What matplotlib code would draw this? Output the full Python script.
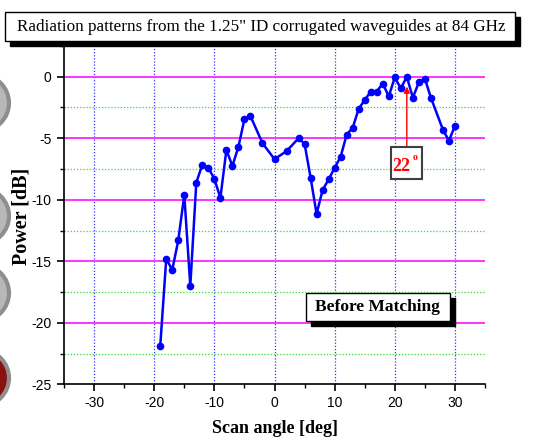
import matplotlib
matplotlib.use("Agg")
import matplotlib.pyplot as plt
from matplotlib.patches import Rectangle, Circle
from matplotlib.ticker import MultipleLocator

plt.rcParams["axes.unicode_minus"] = False

# Scan angle (deg) and measured power (dB)
angles = [-19, -18, -17, -16, -15, -14, -13, -12, -11, -10, -9, -8, -7, -6, -5, -4,
          -2, 0, 2, 4, 5, 6, 7, 8, 9, 10, 11, 12, 13, 14, 15, 16, 17, 18, 19,
          20, 21, 22, 23, 24, 25, 26, 28, 29, 30]
power_db = [-21.9, -14.8, -15.7, -13.3, -9.6, -17.0, -8.6, -7.15, -7.4, -8.3, -9.85,
            -5.95, -7.25, -5.7, -3.45, -3.2,
            -5.4, -6.7, -6.05, -5.0, -5.45, -8.2, -11.15, -9.2, -8.35, -7.4, -6.5,
            -4.7, -4.15, -2.6, -1.9, -1.2, -1.2, -0.55, -1.6,
            -0.05, -0.95, 0.0, -1.7, -0.45, -0.15, -1.7, -4.3, -5.2, -4.0]

title_text = 'Radiation patterns from the 1.25" ID corrugated waveguides at 84 GHz'
x_label = "Scan angle [deg]"
y_label = "Power [dB]"
note_text = "Before Matching"
peak_angle = 22

SERIF = ["Liberation Serif", "DejaVu Serif"]
SANS = ["Liberation Sans", "DejaVu Sans"]

W, H = 547, 445
fig = plt.figure(figsize=(W / 100, H / 100), dpi=100)


def px(x, y):
    """Pixel position (from top-left) to figure fraction."""
    return x / W, 1 - y / H


# decorative discs at the left edge
for cy, face in [(103, "#b8b8b8"), (216, "#b8b8b8"), (293, "#b8b8b8"), (378, "#8b1010")]:
    fig.patches.append(Circle((-19, H - cy), 28, transform=None, facecolor=face,
                              edgecolor="#8e8e8e", linewidth=3, zorder=0))

ax_l, ax_t = px(64, 45)
ax_r, ax_b = px(485, 384.3)
ax = fig.add_axes([ax_l, ax_b, ax_r - ax_l, ax_t - ax_b])

ax.set_xlim(-35, 35)
ax.set_ylim(-25, 2.58)

for s in ("top", "right"):
    ax.spines[s].set_visible(False)
for s in ("left", "bottom"):
    ax.spines[s].set_linewidth(1.2)

ax.xaxis.set_major_locator(MultipleLocator(10))
ax.xaxis.set_minor_locator(MultipleLocator(5))
ax.yaxis.set_major_locator(MultipleLocator(5))
ax.yaxis.set_minor_locator(MultipleLocator(2.5))
ax.tick_params(which="major", direction="out", length=5, width=1.2, labelsize=10)
ax.tick_params(axis="y", which="major", pad=4)
ax.tick_params(which="minor", direction="out", length=3, width=1.0)
for lab in ax.get_xticklabels() + ax.get_yticklabels():
    lab.set_family(SANS)

# grid lines
for xv in range(-30, 31, 10):
    ax.axvline(xv, color="#3333ff", lw=0.9, ls=(0, (1, 1.5)), zorder=1)
for yv in range(-20, 1, 5):
    ax.axhline(yv, color="#ff33ff", lw=1.4, zorder=1)
for yv in [-2.5, -7.5, -12.5, -17.5, -22.5]:
    ax.axhline(yv, color="#33dd33", lw=0.9, ls=(0, (1, 1.5)), zorder=1)

ax.plot(angles, power_db, color="#0000ff", lw=1.8, marker="o", ms=4.5, zorder=3)

ax.set_xlabel(x_label, family=SERIF, fontweight="bold", fontsize=13, labelpad=7)
ax.set_ylabel(y_label, family=SERIF, fontweight="bold", fontsize=14.5,
              va="center")
ax.yaxis.set_label_coords((21 - 64) / 421, 0.496)

# peak marker with boxed label
peak_y = power_db[angles.index(peak_angle)]
ax.annotate("", xy=(peak_angle, peak_y - 0.8), xytext=(peak_angle, -5.74),
            arrowprops=dict(arrowstyle="-|>", color="red", lw=1.0, mutation_scale=9,
                            shrinkA=0, shrinkB=0), zorder=4)
ax.add_patch(Rectangle((19.42, -8.32), 5.08, 2.58, facecolor="white",
                       edgecolor="#404040", lw=1.5, zorder=4))
ax.text(21.1, -7.67, str(peak_angle), color="red", family=SERIF, fontweight="bold",
        fontsize=13, ha="center", va="baseline", zorder=5)
ax.text(23.4, -6.8, "o", color="red", family=SERIF, fontweight="bold",
        fontsize=7, ha="center", va="baseline", zorder=5)


def shadow_box(x0, y0, x1, y1, off=5):
    bx, by = px(x0 + off, y1 + off)
    fig.patches.append(Rectangle((bx, by), (x1 - x0) / W, (y1 - y0) / H,
                                 transform=fig.transFigure, facecolor="black",
                                 edgecolor="black", zorder=5))
    bx, by = px(x0, y1)
    fig.patches.append(Rectangle((bx, by), (x1 - x0) / W, (y1 - y0) / H,
                                 transform=fig.transFigure, facecolor="white",
                                 edgecolor="black", lw=1.0, zorder=6))


shadow_box(5, 12, 515, 41)
tx, ty = px(261, 27)
fig.text(tx, ty, title_text, family=SERIF, fontsize=12.3, ha="center", va="center",
         zorder=7)

shadow_box(306, 293, 450, 321)
tx, ty = px(377, 307)
fig.text(tx, ty, note_text, family=SERIF, fontweight="bold", fontsize=12.5,
         ha="center", va="center", zorder=7)

fig.savefig("out.png", dpi=100)
